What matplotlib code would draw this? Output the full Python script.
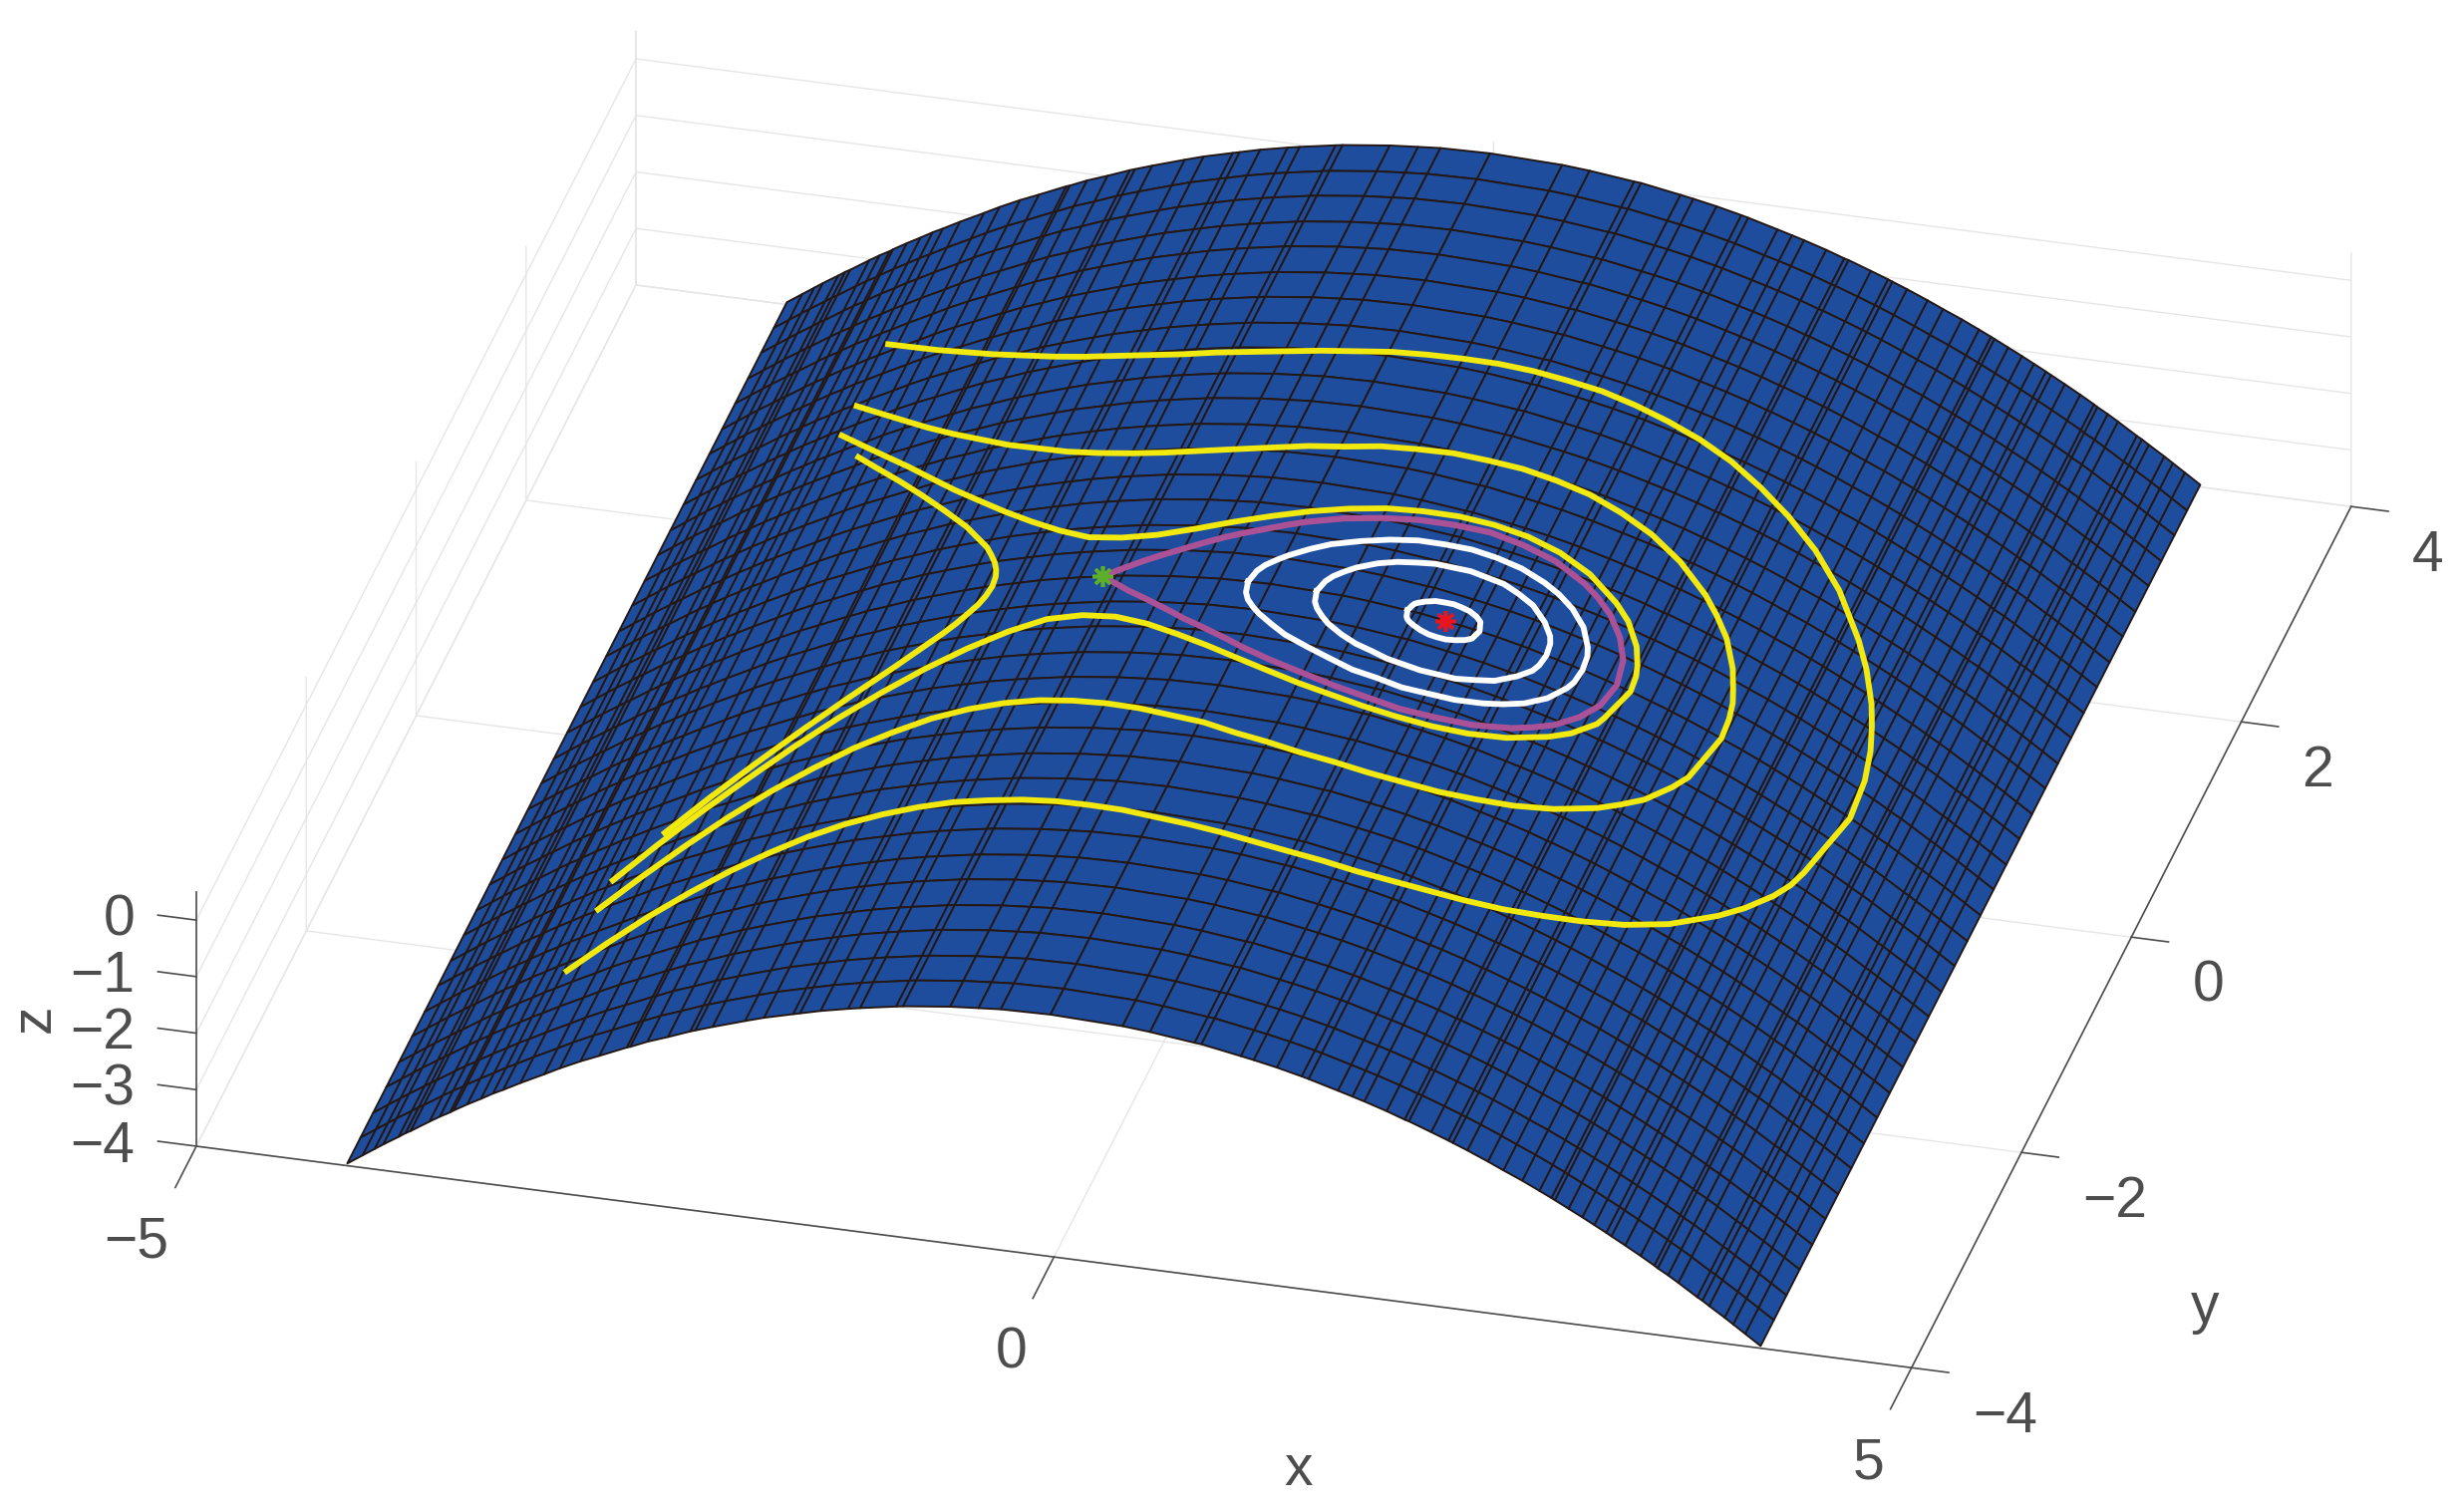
import numpy as np
import matplotlib
matplotlib.use('Agg')
from matplotlib import pyplot as plt
from mpl_toolkits.mplot3d import proj3d

# mesh lines of the surface
x_lines = [-4.12, -4.03, -3.96, -3.91, -3.82, -3.78, -3.75, -3.64, -3.58, -3.52, -3.50, -3.42,
           -3.34, -3.27, -3.21, -3.11, -2.97, -2.88, -2.76, -2.65, -2.49, -2.47, -2.37, -2.25,
           -2.12, -2.09, -1.99, -1.80, -1.69, -1.52, -1.48, -1.36, -1.20, -1.13, -0.92, -0.88,
           -0.605, -0.44, -0.31, -0.02, 0.40, 0.56, 0.82, 0.86, 1.09, 1.165, 1.30, 1.445, 1.485,
           1.656, 1.74, 1.81, 1.94, 2.045, 2.07, 2.20, 2.30, 2.325, 2.41, 2.53, 2.62, 2.73, 2.83,
           2.90, 2.92, 3.00, 3.08, 3.15, 3.22, 3.25, 3.33, 3.42, 3.50, 3.52, 3.58, 3.64, 3.75,
           3.78, 3.82, 3.91, 3.96, 4.03, 4.12]
z_lines = [-3.96, -3.78, -3.64, -3.54, -3.37, -3.29, -3.24, -3.03, -2.92, -2.82, -2.78, -2.64,
           -2.51, -2.39, -2.30, -2.14, -1.93, -1.79, -1.62, -1.48, -1.27, -1.25, -1.12, -0.99,
           -0.84, -0.81, -0.71, -0.53, -0.43, -0.30, -0.27, -0.18, -0.08, -0.04, 0.07, 0.09,
           0.19, 0.23, 0.26, 0.28, 0.24, 0.20, 0.11, 0.10, -0.02, -0.06, -0.14, -0.24, -0.27,
           -0.41, -0.48, -0.54, -0.66, -0.77, -0.79, -0.93, -1.04, -1.07, -1.17, -1.32, -1.44, -1.58, -1.72,
           -1.82, -1.85, -1.97, -2.09, -2.20, -2.31, -2.36, -2.49, -2.64, -2.78, -2.82, -2.92, -3.03, -3.24,
           -3.29, -3.37, -3.54, -3.64, -3.78, -3.96]
y_lines = [-4.0, -3.76, -3.53, -3.29, -3.06, -2.82, -2.59, -2.35, -2.12, -1.88, -1.65, -1.41,
           -1.18, -0.94, -0.71, -0.47, -0.24, 0.0, 0.24, 0.47, 0.71, 0.94, 1.18, 1.41, 1.65,
           1.88, 2.12, 2.35, 2.59, 2.82, 3.06, 3.29, 3.53, 3.76, 4.0]

# yellow curves: upper branch from the left, to the turning point
y1_x = [-3.2, -3.0, -2.8, -2.6, -2.4, -2.2, -2.0, -1.8, -1.6, -1.4, -1.2, -1.0, -0.8, -0.6, -0.4, -0.2,
        0.0, 0.2, 0.4, 0.6, 0.8, 1.0, 1.2, 1.4, 1.6, 1.8, 2.0, 2.2, 2.4, 2.6, 2.8, 3.0, 3.1, 3.2, 3.25, 3.3, 3.34, 3.36]
y1_y = [2.92, 2.77, 2.63, 2.51, 2.40, 2.31, 2.23, 2.17, 2.13, 2.10, 2.08, 2.08, 2.08, 2.09, 2.11, 2.13,
        2.16, 2.18, 2.20, 2.22, 2.23, 2.23, 2.23, 2.21, 2.18, 2.14, 2.08, 1.99, 1.88, 1.74, 1.55, 1.28, 1.11, 0.89, 0.74, 0.56, 0.33, 0.0]
y1_z = [-2.28, -1.97, -1.68, -1.41, -1.16, -0.93, -0.72, -0.53, -0.36, -0.21, -0.08, 0.03, 0.12, 0.19, 0.24, 0.27,
        0.28, 0.27, 0.24, 0.19, 0.12, 0.03, -0.08, -0.21, -0.36, -0.53, -0.72, -0.93, -1.16, -1.41, -1.68, -1.97, -2.12, -2.28, -2.36, -2.44, -2.51, -2.54]
y1_kink = [3.28, -0.59, -2.41]

y2_x = [-3.2, -3.0, -2.8, -2.6, -2.4, -2.2, -2.0, -1.8, -1.6, -1.4, -1.2, -1.0, -0.8, -0.6, -0.4, -0.2,
        0.0, 0.2, 0.4, 0.6, 0.8, 1.0, 1.2, 1.4, 1.6, 1.8, 2.0, 2.2, 2.3, 2.4, 2.5, 2.55, 2.58, 2.6, 2.61]
y2_y = [2.35, 2.16, 1.98, 1.81, 1.66, 1.53, 1.41, 1.32, 1.24, 1.19, 1.16, 1.15, 1.16, 1.18, 1.21, 1.25,
        1.28, 1.33, 1.36, 1.39, 1.40, 1.41, 1.40, 1.38, 1.33, 1.26, 1.15, 0.99, 0.88, 0.75, 0.55, 0.40, 0.30, 0.17, 0.0]
y2_z = [-2.28, -1.97, -1.68, -1.41, -1.16, -0.93, -0.72, -0.53, -0.36, -0.21, -0.08, 0.03, 0.12, 0.19, 0.24, 0.27,
        0.28, 0.27, 0.24, 0.19, 0.12, 0.03, -0.08, -0.21, -0.36, -0.53, -0.72, -0.93, -1.04, -1.16, -1.28, -1.35, -1.38, -1.41, -1.42]
y2_kink = [2.55, -0.41, -1.35]

y3_x = [-3.2, -3.0, -2.8, -2.6, -2.4, -2.2, -2.0, -1.8, -1.6, -1.4, -1.2, -1.0, -0.8, -0.6, -0.4, -0.2,
        0.0, 0.2, 0.4, 0.6, 0.8, 1.0, 1.2, 1.4, 1.6, 1.8, 1.9, 2.0, 2.05, 2.07, 2.08]
y3_y = [2.08, 1.86, 1.65, 1.45, 1.25, 1.06, 0.89, 0.73, 0.59, 0.47, 0.38, 0.36, 0.38, 0.44, 0.52, 0.60,
        0.68, 0.75, 0.81, 0.85, 0.88, 0.89, 0.88, 0.84, 0.76, 0.62, 0.52, 0.36, 0.22, 0.13, 0.0]
y3_z = [-2.28, -1.97, -1.68, -1.41, -1.16, -0.93, -0.72, -0.53, -0.36, -0.21, -0.08, 0.03, 0.12, 0.19, 0.24, 0.27,
        0.28, 0.27, 0.24, 0.19, 0.12, 0.03, -0.08, -0.21, -0.36, -0.53, -0.62, -0.72, -0.77, -0.79, -0.80]
y3_kink = [2.02, -0.29, -0.74]

y4_x = [-3.0, -2.8, -2.6, -2.4, -2.2, -2.0, -1.8, -1.75, -1.7, -1.67, -1.65, -1.64]
y4_y = [1.76, 1.53, 1.31, 1.09, 0.87, 0.65, 0.40, 0.32, 0.23, 0.16, 0.09, 0.0]
y4_z = [-1.97, -1.68, -1.41, -1.16, -0.93, -0.72, -0.53, -0.49, -0.44, -0.42, -0.40, -0.39]

# purple loop through the saddle
p_x = [-1.0, -0.9, -0.8, -0.7, -0.6, -0.5, -0.4, -0.3, -0.2, -0.1, 0.0, 0.2, 0.4, 0.6, 0.8, 1.0, 1.2, 1.4, 1.6, 1.7, 1.8, 1.9, 1.97, 2.0]
p_y = [0.0, 0.07, 0.14, 0.20, 0.26, 0.32, 0.38, 0.43, 0.48, 0.53, 0.58, 0.66, 0.72, 0.77, 0.80, 0.82, 0.80, 0.76, 0.67, 0.60, 0.51, 0.37, 0.21, 0.0]
p_z = [0.03, 0.08, 0.12, 0.16, 0.19, 0.22, 0.24, 0.26, 0.27, 0.28, 0.28, 0.27, 0.24, 0.19, 0.12, 0.03, -0.08, -0.21, -0.36, -0.44, -0.53, -0.62, -0.69, -0.72]

# white closed orbits
w1_x = [-0.15, -0.13, -0.1, -0.05, 0.0, 0.1, 0.2, 0.35, 0.5, 0.65, 0.8, 0.95, 1.1, 1.25, 1.4, 1.5, 1.6, 1.7, 1.77, 1.79, 1.8]
w1_y = [0.0, 0.10, 0.16, 0.22, 0.27, 0.35, 0.42, 0.49, 0.55, 0.60, 0.62, 0.64, 0.63, 0.61, 0.56, 0.51, 0.44, 0.33, 0.19, 0.12, 0.0]
w1_z = [0.27, 0.28, 0.28, 0.28, 0.28, 0.28, 0.27, 0.25, 0.22, 0.17, 0.12, 0.05, -0.02, -0.11, -0.21, -0.28, -0.36, -0.44, -0.50, -0.52, -0.53]
w2_x = [0.25, 0.27, 0.3, 0.35, 0.4, 0.5, 0.6, 0.7, 0.8, 1.0, 1.2, 1.3, 1.4, 1.5, 1.56, 1.58, 1.59]
w2_y = [0.0, 0.095, 0.15, 0.21, 0.26, 0.33, 0.38, 0.41, 0.44, 0.46, 0.44, 0.40, 0.35, 0.25, 0.16, 0.10, 0.0]
w2_z = [0.26, 0.26, 0.26, 0.25, 0.24, 0.22, 0.19, 0.16, 0.12, 0.03, -0.08, -0.14, -0.21, -0.28, -0.33, -0.34, -0.35]
w3_x = [0.78, 0.79, 0.8, 0.82, 0.85, 0.9, 0.95, 1.0, 1.05, 1.1, 1.15, 1.18, 1.2]
w3_y = [0.0, 0.05, 0.07, 0.09, 0.11, 0.136, 0.148, 0.153, 0.148, 0.134, 0.107, 0.077, 0.0]
w3_z = [0.13, 0.12, 0.12, 0.11, 0.10, 0.08, 0.05, 0.03, 0.0, -0.02, -0.05, -0.07, -0.08]

saddle = [-1.0, 0.0, 0.03]
center = [1.0, 0.0, 0.03]

x_ticks = [-5, 0, 5]
y_ticks = [-4, -2, 0, 2, 4]
z_ticks = [-4, -3, -2, -1, 0]
x_tick_labels = ['\u22125', '0', '5']
y_tick_labels = ['\u22124', '\u22122', '0', '2', '4']
z_tick_labels = ['\u22124', '\u22123', '\u22122', '\u22121', '0']

text_color = '#4d4d4d'
plt.rcParams['font.family'] = ['Liberation Sans', 'DejaVu Sans']
plt.rcParams['font.size'] = 41
plt.rcParams['grid.color'] = '#e6e6e6'
plt.rcParams['grid.linewidth'] = 1.0
plt.rcParams['axes.edgecolor'] = text_color
plt.rcParams['axes.linewidth'] = 1.2
plt.rcParams['axes.labelcolor'] = text_color
for name in ('xtick', 'ytick'):
  plt.rcParams[name + '.color'] = text_color
  plt.rcParams[name + '.major.width'] = 1.2
W, H = 2470, 1517
fig = plt.figure(figsize=(W / 100, H / 100), dpi=100)
S = 2453.7
ax = fig.add_axes([0.0, 0.0, S / W, S / H], projection='3d', proj_type='ortho',
                  computed_zorder=False)
ax.view_init(elev=30.2, azim=-75.6)
ax.set_xlim(-5, 5)
ax.set_ylim(-4, 4)
ax.set_zlim(-4, 0.5)
ax.set_box_aspect((1128, 1126, 187.5))
ax.patch.set_alpha(0)
ax.set_xticks(x_ticks)
ax.set_yticks(y_ticks)
ax.set_zticks(z_ticks)
ax.zaxis.set_tick_params(colors=text_color, width=1.2)
ax.zaxis.set_ticks_position('lower')
# z ticks run along x here, as in the picture
ax.zaxis._get_tickdir = lambda position: 0
for axis in (ax.xaxis, ax.yaxis, ax.zaxis):
  axis.set_pane_color((1, 1, 1, 0))
  axis.pane.set_edgecolor('none')
  axis._axinfo['tick']['outward_factor'] = 0.0
  axis._axinfo['tick']['inward_factor'] = 0.0
  axis.set_major_formatter(matplotlib.ticker.NullFormatter())
  axis.label.set_visible(False)
  axis.offsetText.set_visible(False)
ax.xaxis._axinfo['tick']['inward_factor'] = 0.6
ax.yaxis._axinfo['tick']['inward_factor'] = 0.27
ax.zaxis._axinfo['tick']['outward_factor'] = 0.28

# surface
X, Y = np.meshgrid(x_lines, y_lines)
Z = np.tile(z_lines, (len(y_lines), 1))
ax.plot_surface(X, Y, Z, rstride=1, cstride=1, color='#1f4d9e', shade=False,
                edgecolor='#231815', linewidth=1.4, zorder=1)


def open_curve(ux, uy, uz, kink):
  ux, uy, uz = np.array(ux), np.array(uy), np.array(uz)
  low = ux < kink[0]
  return (np.r_[ux, kink[0], ux[low][::-1]],
          np.r_[uy, kink[1], -uy[low][::-1]],
          np.r_[uz, kink[2], uz[low][::-1]])


def closed_curve(ux, uy, uz):
  ux, uy, uz = np.array(ux), np.array(uy), np.array(uz)
  return (np.r_[ux, ux[-2::-1]], np.r_[uy, -uy[-2::-1]], np.r_[uz, uz[-2::-1]])


def label3d(x, y, z, s, **kwargs):
  px, py, _ = proj3d.proj_transform(x, y, z, ax.get_proj())
  ax.text2D(px, py, s, transform=ax.transData, color=text_color, va='center', **kwargs)


yellow = '#f2ea0f'
for curve in (open_curve(y1_x, y1_y, y1_z, y1_kink),
              open_curve(y2_x, y2_y, y2_z, y2_kink),
              open_curve(y3_x, y3_y, y3_z, y3_kink),
              closed_curve(y4_x, y4_y, y4_z)):
  ax.plot(*curve, color=yellow, linewidth=4.2, solid_capstyle='butt', zorder=3)
for curve in (closed_curve(w1_x, w1_y, w1_z), closed_curve(w2_x, w2_y, w2_z),
              closed_curve(w3_x, w3_y, w3_z)):
  ax.plot(*curve, color='white', linewidth=4.2, zorder=4)
ax.plot(*closed_curve(p_x, p_y, p_z), color='#ab5296', linewidth=4.4, zorder=5)
ax.plot([saddle[0]], [saddle[1]], [saddle[2]], linestyle='none', marker=(8, 2, 0),
        markersize=15, markeredgewidth=2.6, color='#5dae2b', zorder=6)
ax.plot([center[0]], [center[1]], [center[2]], linestyle='none', marker=(8, 2, 0),
        markersize=15, markeredgewidth=2.6, color='#e8141f', zorder=6)

# tick labels and axis labels, anchored in data coordinates
for value, label in zip(x_ticks, x_tick_labels):
  label3d(value + 0.12, -4.87, -4, label, ha='right')
for value, label in zip(y_ticks, y_tick_labels):
  label3d(5.47, value - 0.36, -4, label, ha='left')
for value, label in zip(z_ticks, z_tick_labels):
  label3d(-5.36, -4, value - 0.15, label, ha='right')
label3d(1.93, -5.58, -4, 'x', ha='center')
label3d(6.44, -3.15, -4, 'y', ha='center')
label3d(-5.94, -4, -2.11, 'z', ha='center', rotation=90)

# move the axes so the floor corner lands where it is in the picture
ax.apply_aspect()
px, py, _ = proj3d.proj_transform(-5, -4, -4, ax.get_proj())
now = ax.transData.transform((px, py))
dx, dy = 197 - now[0], (H - 1150) - now[1]
pos = ax.get_position()
ax.set_position([pos.x0 + dx / W, pos.y0 + dy / H, pos.width, pos.height])

fig.savefig('out.png', dpi=100)
